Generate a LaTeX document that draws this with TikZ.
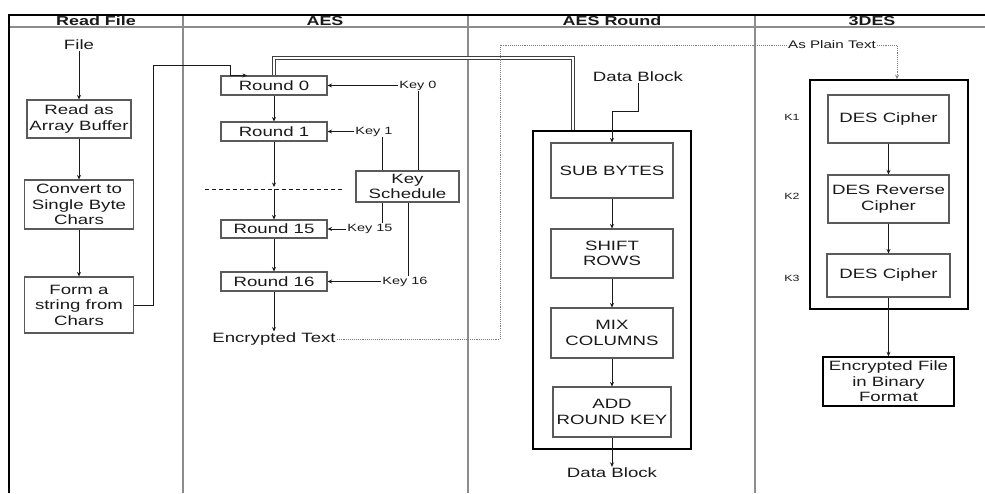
\documentclass[tikz,border=0pt]{standalone}
\usepackage{fontspec}
\setmainfont[FakeStretch=1.38]{Liberation Sans}
\usetikzlibrary{arrows.meta}
\definecolor{boxgray}{HTML}{5A5A5A}
\definecolor{lanegray}{HTML}{8C8C8C}
\definecolor{txt}{HTML}{1A1A1A}
\begin{document}
\begin{tikzpicture}[x=1pt,y=-1pt,
  every node/.style={text=txt, font=\fontsize{13.5}{15.5}\selectfont},
  proc/.style={draw=boxgray, line width=1.1pt, inner sep=0pt, align=center},
  heavy/.style={draw=black, line width=1.8pt, inner sep=0pt},
  lbl/.style={inner sep=1pt},
  keylbl/.style={inner sep=1pt, font=\fontsize{10.5}{12}\selectfont},
  klbl/.style={inner sep=1pt, font=\fontsize{9}{10}\selectfont},
  hdr/.style={inner sep=0pt, font=\bfseries\fontsize{13}{15}\selectfont},
  arr/.style={draw=txt, line width=1pt, -{Stealth[length=4.5pt,width=4pt]}},
  plain/.style={draw=txt, line width=1pt},
  lane/.style={draw=lanegray, line width=1.6pt},
  dots/.style={draw=gray, line width=0.9pt, densely dotted},
  dbl/.style={draw=black!75, line width=0.8pt, double=white, double distance=2pt},
]
\useasboundingbox (0,0) rectangle (985,493);

% frame and lanes
\foreach \x in {183,468,755} \draw[lane] (\x,15) -- (\x,493);
\draw[lanegray, line width=1.2pt] (9,27) -- (985,27);
\draw[black, line width=1.8pt] (9,493) -- (9,15) -- (985,15);

% headers
\node[hdr] (h1) at (96,21) {Read File};
\node[hdr] (h2) at (325,21) {AES};
\node[hdr] (h3) at (612,21) {AES Round};
\node[hdr] (h4) at (872,21) {3DES};

% Read File lane
\node[lbl] (file) at (79,45) {File};
\node[proc, minimum width=104pt, minimum height=38pt] (read) at (79,119) {Read as\\Array Buffer};
\node[proc, minimum width=109pt, minimum height=49pt] (conv) at (79,204.5) {Convert to\\Single Byte\\Chars};
\node[proc, minimum width=109pt, minimum height=56pt] (form) at (79,305) {Form a\\string from\\Chars};
\draw[arr] (file) -- (read);
\draw[arr] (read) -- (conv);
\draw[arr] (conv) -- (form);

% AES lane
\node[proc, minimum width=106pt, minimum height=19pt] (r0) at (274,85.5) {Round 0};
\node[proc, minimum width=106pt, minimum height=19pt] (r1) at (274,131.5) {Round 1};
\node[proc, minimum width=106pt, minimum height=18pt] (r15) at (274,229) {Round 15};
\node[proc, minimum width=106pt, minimum height=19pt] (r16) at (274,281.5) {Round 16};
\node[lbl] (enc) at (274,339) {Encrypted Text};
\coordinate (dl) at (205,189);
\coordinate (dr) at (343,189);
\coordinate (dm) at (274,189);
\draw[line width=1pt, draw=txt, dash pattern=on 4pt off 3pt] (dl) -- (dr);
\draw[arr] (r0) -- (r1);
\draw[arr] (r1.south) -- ([yshift=2pt]dm);
\draw[arr] (dm) -- (r15.north);
\draw[arr] (r15) -- (r16);
\draw[arr] (r16) -- (enc);

\node[proc, minimum width=103pt, minimum height=31pt] (ks) at (407.5,186.5) {Key\\Schedule};
\node[keylbl] (k0) at (418,85.5) {Key 0};
\node[keylbl] (k1) at (374,131.5) {Key 1};
\node[keylbl] (k15) at (370,229) {Key 15};
\node[keylbl] (k16) at (405,281.5) {Key 16};
\draw[arr] (k0.west) -- (k0.west -| r0.east);
\draw[arr] (k1.west) -- (k1.west -| r1.east);
\draw[arr] (k15.west) -- (k15.west -| r15.east);
\draw[arr] (k16.west) -- (k16.west -| r16.east);
\draw[plain] (k0.south) -- (k0.south |- ks.north);
\draw[plain] ([xshift=8pt]k1.south) -- ([xshift=8pt]k1.south |- ks.north);
\draw[plain] ([xshift=12pt]k15.north) -- ([xshift=12pt]k15.north |- ks.south);
\draw[plain] ([xshift=3pt]k16.north) -- ([xshift=3pt]k16.north |- ks.south);

% Read File -> Round 0
\draw[arr] (form.east) -| (153,65) -| ([xshift=-44pt]r0.north) -- ([xshift=-27pt]r0.north);

% AES Round lane
\node[lbl] (db1) at (638,77) {Data Block};
\node[heavy, minimum width=158pt, minimum height=318pt] (outer) at (612,290) {};
\node[proc, minimum width=122pt, minimum height=55pt] (sb) at (612,170.5) {SUB BYTES};
\node[proc, minimum width=122pt, minimum height=49pt] (sr) at (612,253.5) {SHIFT\\ROWS};
\node[proc, minimum width=122pt, minimum height=50pt] (mc) at (612,333) {MIX\\COLUMNS};
\node[proc, minimum width=118pt, minimum height=50pt] (ark) at (612,412) {ADD\\ROUND KEY};
\node[lbl] (db2) at (612,473) {Data Block};
\draw[arr] (db1.south) -- ++(0,28) -| (sb.north);
\draw[arr] (sb) -- (sr);
\draw[arr] (sr) -- (mc);
\draw[arr] (mc) -- (ark);
\draw[arr] (ark) -- (db2);

% Round 0 -> AES Round expansion
\coordinate (bend) at (573,58);
\draw[dbl] (r0.north) |- (bend) -- ([xshift=-39pt]outer.north);

% 3DES lane
\node[heavy, minimum width=158pt, minimum height=229pt] (des) at (889,194.5) {};
\node[proc, minimum width=121pt, minimum height=48pt] (d1) at (888.5,119) {DES Cipher};
\node[proc, minimum width=121pt, minimum height=48pt] (d2) at (888.5,199) {DES Reverse\\Cipher};
\node[proc, minimum width=123pt, minimum height=43pt] (d3) at (888.5,275.5) {DES Cipher};
\node[klbl] (kk1) at (792,117) {K1};
\node[klbl] (kk2) at (792,196) {K2};
\node[klbl] (kk3) at (792,278) {K3};
\node[draw=black, line width=1.4pt, inner sep=0pt, align=center, minimum width=131pt, minimum height=49pt] (ef) at (888.5,381.5) {Encrypted File\\in Binary\\Format};
\draw[arr] (d1) -- (d2);
\draw[arr] (d2) -- (d3);
\draw[arr] (d3) -- (ef);

% Encrypted Text -> 3DES (dotted)
\draw[dots, -{Stealth[length=4.5pt,width=4pt]}] (enc.east) -| (500,45) -| ([xshift=8pt]des.north);
\node[fill=white, inner sep=1pt, font=\fontsize{11}{12}\selectfont] (apt) at (832,45) {As Plain Text};
\end{tikzpicture}
\end{document}
